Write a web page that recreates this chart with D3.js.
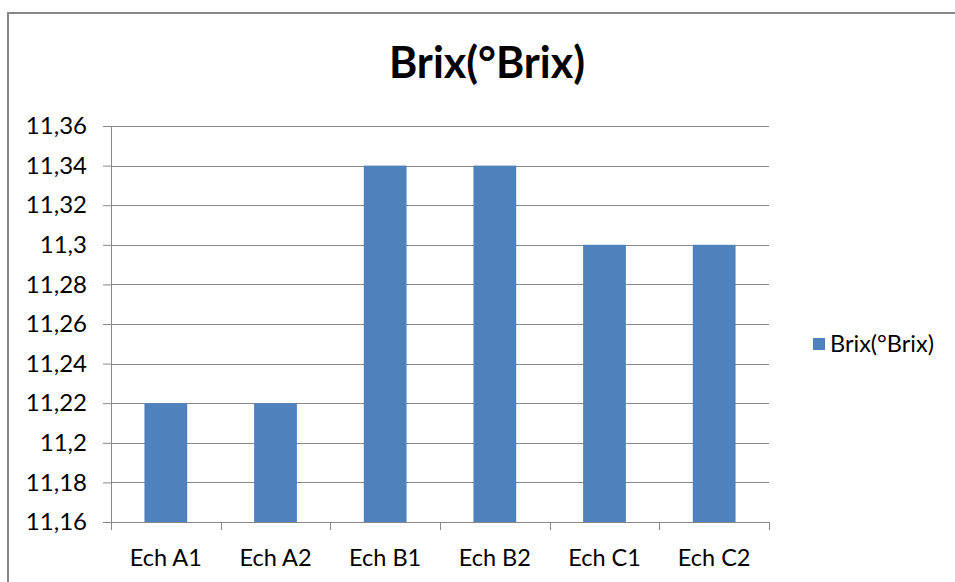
<!DOCTYPE html>
<html>
<head>
<meta charset="utf-8">
<script src="https://cdn.jsdelivr.net/npm/d3@7"></script>
<style>
  body { margin: 0; background: #fff; }
  text { font-family: Lato, sans-serif; fill: #000; }
</style>
</head>
<body>
<script>
const WIDTH = 955;
const HEIGHT = 582;
const MARGIN = { top: 126, right: 186, bottom: 60, left: 111 };

// données
const categories = ["Ech A1", "Ech A2", "Ech B1", "Ech B2", "Ech C1", "Ech C2"];
const valeurs = [11.22, 11.22, 11.34, 11.34, 11.3, 11.3];
const ticksY = [11.16, 11.18, 11.2, 11.22, 11.24, 11.26, 11.28, 11.3, 11.32, 11.34, 11.36];
const titre = "Brix(°Brix)";

const svg = d3.select("body")
    .append("svg")
    .attr("width", WIDTH)
    .attr("height", HEIGHT);

// cadre du graphique (sort de l'image à droite et en bas)
svg.append("rect")
    .attr("x", 8)
    .attr("y", 13)
    .attr("width", 1000)
    .attr("height", 700)
    .attr("fill", "none")
    .attr("stroke", "#878787")
    .attr("stroke-width", 2);

const innerW = WIDTH - MARGIN.left - MARGIN.right;
const innerH = HEIGHT - MARGIN.top - MARGIN.bottom;

const x = d3.scaleBand().domain(categories).range([0, innerW]);
const y = d3.scaleLinear().domain([11.16, 11.36]).range([innerH, 0]);

const formatVirgule = (d) => String(+d.toFixed(2)).replace(".", ",");

const g = svg.append("g")
    .attr("transform", `translate(${MARGIN.left} ${MARGIN.top})`);

// grille
g.selectAll("line.grille")
    .data(ticksY)
    .join("line")
    .attr("class", "grille")
    .attr("x1", 0)
    .attr("x2", innerW)
    .attr("y1", (d) => Math.round(y(d)) + 0.5)
    .attr("y2", (d) => Math.round(y(d)) + 0.5)
    .attr("stroke", "#888")
    .attr("stroke-width", 1);

// barres
const largeurBarre = x.bandwidth() * 0.39;
g.selectAll("rect.barre")
    .data(valeurs)
    .join("rect")
    .attr("class", "barre")
    .attr("x", (d, i) => x(categories[i]) + (x.bandwidth() - largeurBarre) / 2)
    .attr("y", (d) => y(d))
    .attr("width", largeurBarre)
    .attr("height", (d) => innerH - y(d))
    .attr("fill", "#4f81bd");

// axe Y
const axeY = g.append("g")
    .call(d3.axisLeft(y).tickValues(ticksY).tickFormat(formatVirgule).tickSize(8).tickPadding(16));
axeY.select(".domain").attr("stroke", "#888").attr("d", `M0.5,0V${innerH}`);
axeY.selectAll(".tick line").attr("stroke", "#888");
axeY.selectAll("text")
    .attr("font-size", 24)
    .attr("font-family", "Lato, sans-serif")
    .attr("fill", "#000");

// axe X
const axeX = g.append("g")
    .attr("transform", `translate(0 ${innerH})`);
axeX.append("line")
    .attr("x1", 0).attr("x2", innerW)
    .attr("y1", 0.5).attr("y2", 0.5)
    .attr("stroke", "#888");
axeX.selectAll("line.coche")
    .data(d3.range(categories.length + 1))
    .join("line")
    .attr("class", "coche")
    .attr("x1", (i) => Math.round(i * x.step()) + 0.5)
    .attr("x2", (i) => Math.round(i * x.step()) + 0.5)
    .attr("y1", 0)
    .attr("y2", 8)
    .attr("stroke", "#888");
axeX.selectAll("text")
    .data(categories)
    .join("text")
    .attr("x", (d) => x(d) + x.bandwidth() / 2)
    .attr("y", 44)
    .attr("text-anchor", "middle")
    .attr("font-size", 23.5)
    .text((d) => d);

// titre
svg.append("text")
    .attr("x", 487)
    .attr("y", 78)
    .attr("text-anchor", "middle")
    .attr("font-size", 43)
    .attr("font-weight", "bold")
    .text(titre);

// légende
svg.append("rect")
    .attr("x", 813)
    .attr("y", 338)
    .attr("width", 12)
    .attr("height", 12)
    .attr("fill", "#4f81bd");
svg.append("text")
    .attr("x", 830)
    .attr("y", 352)
    .attr("font-size", 23.5)
    .text(titre);
</script>
</body>
</html>
